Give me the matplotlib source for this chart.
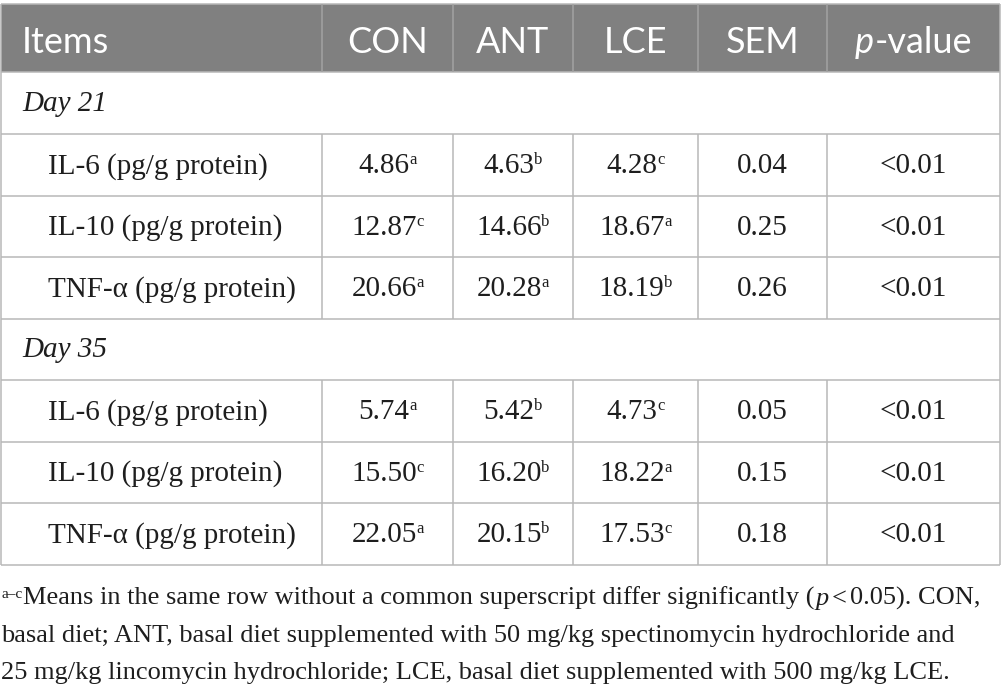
import matplotlib
matplotlib.use("Agg")
import matplotlib.pyplot as plt
from matplotlib.font_manager import FontProperties
from matplotlib.patches import Rectangle

# ---------------- data ----------------
columns = ["Items", "CON", "ANT", "LCE", "SEM", "p-value"]
sections = ["Day 21", "Day 35"]
items = ["IL-6 (pg/g protein)", "IL-10 (pg/g protein)", "TNF-α (pg/g protein)"]

d21_con = [4.86, 12.87, 20.66]
d21_con_sup = ["a", "c", "a"]
d21_ant = [4.63, 14.66, 20.28]
d21_ant_sup = ["b", "b", "a"]
d21_lce = [4.28, 18.67, 18.19]
d21_lce_sup = ["c", "a", "b"]
d21_sem = [0.04, 0.25, 0.26]
d21_p = ["<0.01", "<0.01", "<0.01"]

d35_con = [5.74, 15.50, 22.05]
d35_con_sup = ["a", "c", "a"]
d35_ant = [5.42, 16.20, 20.15]
d35_ant_sup = ["b", "b", "b"]
d35_lce = [4.73, 18.22, 17.53]
d35_lce_sup = ["c", "a", "c"]
d35_sem = [0.05, 0.15, 0.18]
d35_p = ["<0.01", "<0.01", "<0.01"]

foot_line1 = "Means in the same row without a common superscript differ significantly ("
foot_line1_end = "0.05). CON,"
foot_line2 = "basal diet; ANT, basal diet supplemented with 50 mg/kg spectinomycin hydrochloride and"
foot_line3 = "25 mg/kg lincomycin hydrochloride; LCE, basal diet supplemented with 500 mg/kg LCE."

# ---------------- layout ----------------
W, H = 1002, 692
fig = plt.figure(figsize=(W / 100, H / 100), dpi=100)
ax = fig.add_axes([0, 0, 1, 1])
ax.set_xlim(0, W)
ax.set_ylim(H, 0)
ax.axis("off")
renderer = fig.canvas.get_renderer()

col_edges = [1, 322, 453, 573, 698, 827, 1000]
row_edges = [4, 72, 134, 195.5, 257, 318.5, 380, 441.5, 503, 564.5]

HEAD_BG = "#808080"
LINE = "#b8b8b8"
HEAD_SEP = "#a3a3a3"
TXT = "#1e1e1e"
LW = 1.1

head_fp = FontProperties(family=["Lato", "Open Sans", "DejaVu Sans"], size=26)
head_it = FontProperties(family=["Lato", "Open Sans", "DejaVu Sans"], size=26, style="italic")
body_fp = FontProperties(family=["Liberation Serif", "DejaVu Serif"], size=21)
body_it = FontProperties(family=["Liberation Serif", "DejaVu Serif"], size=21, style="italic")
sup_fp = FontProperties(family=["Liberation Serif", "DejaVu Serif"], size=12)
foot_fp = FontProperties(family=["Liberation Serif", "DejaVu Serif"], size=19)
foot_it = FontProperties(family=["Liberation Serif", "DejaVu Serif"], size=19, style="italic")
foot_sup = FontProperties(family=["Liberation Serif", "DejaVu Serif"], size=11)


def rich(x, y, pieces, ha="left", color=TXT):
    arts = []
    for s, fp, dy, gap in pieces:
        t = ax.text(0, y - dy, s, fontproperties=fp, va="baseline", ha="left", color=color)
        arts.append((t, gap))
    widths = [t.get_window_extent(renderer).width for t, _ in arts]
    total = sum(widths) + sum(g for _, g in arts)
    cur = x if ha == "left" else x - total / 2.0
    for (t, g), w in zip(arts, widths):
        cur += g
        t.set_x(cur)
        cur += w


# header background
ax.add_patch(Rectangle((col_edges[0], row_edges[0]), col_edges[-1] - col_edges[0],
                       row_edges[1] - row_edges[0], facecolor=HEAD_BG, edgecolor="none", zorder=0))

# horizontal lines
for y in row_edges:
    ax.plot([col_edges[0], col_edges[-1]], [y, y], color=LINE, lw=LW, zorder=1,
            solid_capstyle="butt")
# outer verticals
for x in (col_edges[0], col_edges[-1]):
    ax.plot([x, x], [row_edges[0], row_edges[-1]], color=LINE, lw=LW, zorder=1,
            solid_capstyle="butt")
# interior verticals: header
for x in col_edges[1:-1]:
    ax.plot([x, x], [row_edges[0], row_edges[1]], color=HEAD_SEP, lw=LW, zorder=1,
            solid_capstyle="butt")
# interior verticals: data rows
for r0, r1 in ((2, 5), (6, 9)):
    for x in col_edges[1:-1]:
        ax.plot([x, x], [row_edges[r0], row_edges[r1]], color=LINE, lw=LW, zorder=1,
                solid_capstyle="butt")

centers = [(col_edges[i] + col_edges[i + 1]) / 2 for i in range(len(col_edges) - 1)]

# header text
head_base = 53
rich(22, head_base, [(columns[0], head_fp, 0, 0)], color="white")
for i in range(1, 5):
    rich(centers[i], head_base, [(columns[i], head_fp, 0, 0)], ha="center", color="white")
rich(centers[5], head_base, [("p", head_it, 0, 0), ("-value", head_fp, 0, 1)],
     ha="center", color="white")

SUP_RAISE = 9
blocks = [
    (sections[0], d21_con, d21_con_sup, d21_ant, d21_ant_sup, d21_lce, d21_lce_sup, d21_sem, d21_p),
    (sections[1], d35_con, d35_con_sup, d35_ant, d35_ant_sup, d35_lce, d35_lce_sup, d35_sem, d35_p),
]
for b, (sec, con, con_s, ant, ant_s, lce, lce_s, sem, pv) in enumerate(blocks):
    r_sec = 1 + b * 4
    yc = (row_edges[r_sec] + row_edges[r_sec + 1]) / 2
    rich(22, yc + 8, [(sec, body_it, 0, 0)])
    for k in range(3):
        r = r_sec + 1 + k
        yc = (row_edges[r] + row_edges[r + 1]) / 2
        base = yc + 8.5
        rich(48, base, [(items[k], body_fp, 0, 0)])
        for ci, (vals, sups) in enumerate(((con, con_s), (ant, ant_s), (lce, lce_s)), start=1):
            rich(centers[ci], base, [(f"{vals[k]:.2f}", body_fp, 0, 0),
                                     (sups[k], sup_fp, SUP_RAISE, -0.5)], ha="center")
        rich(centers[4], base, [(f"{sem[k]:.2f}", body_fp, 0, 0)], ha="center")
        rich(centers[5], base, [(pv[k], body_fp, 0, 0)], ha="center")

# footnote
rich(1, 605, [("a\u2013c", foot_sup, 7, 0), (foot_line1, foot_fp, 0, 1),
              ("p", foot_it, 0, 1), ("<", foot_fp, 0, 3), (foot_line1_end, foot_fp, 0, 3)])
rich(1, 642, [(foot_line2, foot_fp, 0, 0)])
rich(1, 679, [(foot_line3, foot_fp, 0, 0)])

fig.savefig("out.png", dpi=100, facecolor="white")
